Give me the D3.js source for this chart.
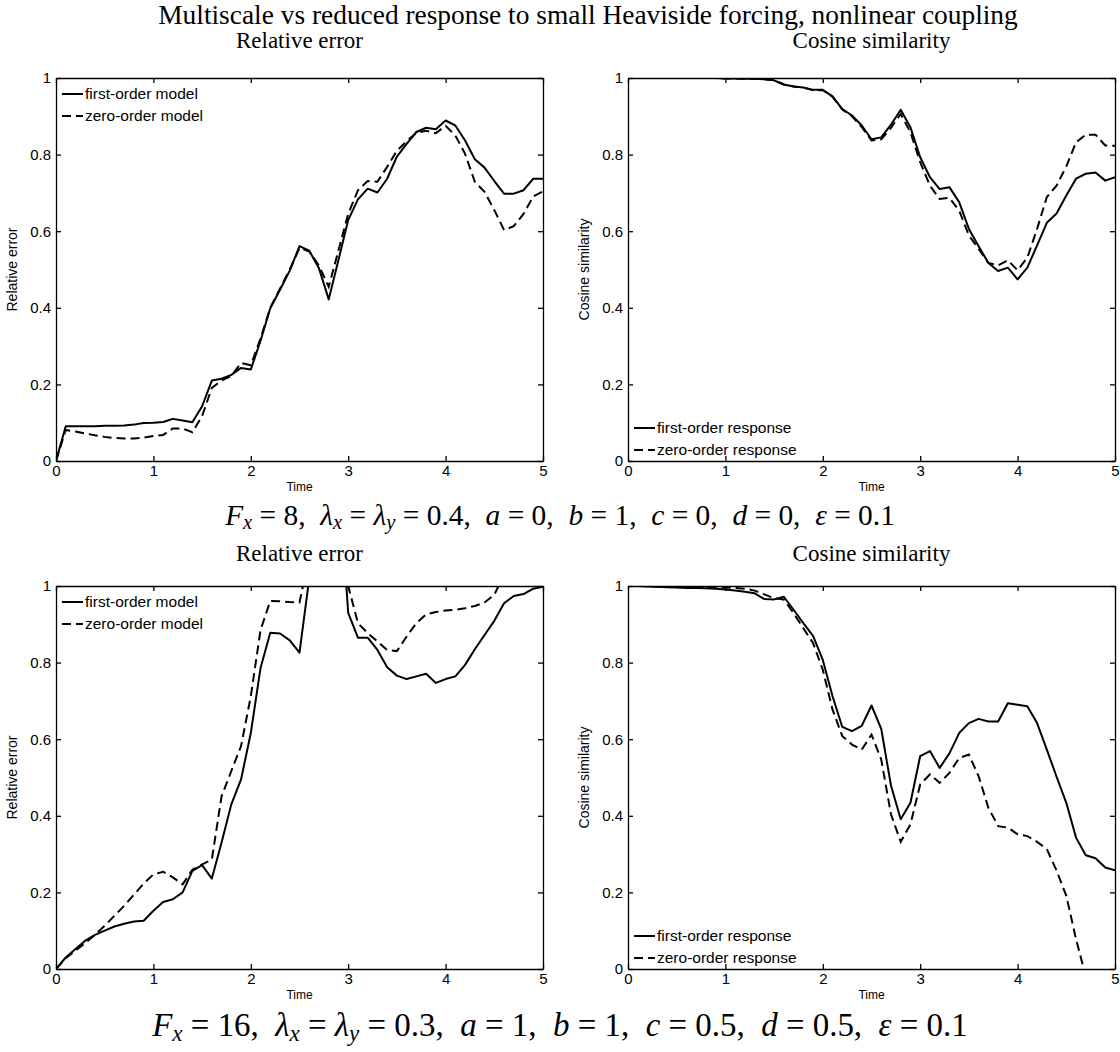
<!DOCTYPE html>
<html>
<head>
<meta charset="utf-8">
<script src="https://cdn.jsdelivr.net/npm/d3@7"></script>
<style>
  body { margin: 0; background: #fff; }
  svg { display: block; }
  .tick text { font-family: "Liberation Sans", Arial, sans-serif; font-size: 15px; fill: #000; }
  .serif { font-family: "Liberation Serif", "Times New Roman", serif; fill: #000; }
  .sans { font-family: "Liberation Sans", Arial, sans-serif; fill: #000; }
</style>
</head>
<body>
<script>
const W = 1120, H = 1052;

// time grid (dt = 0.1)
const time = [0, 0.1, 0.2, 0.3, 0.4, 0.5, 0.6, 0.7, 0.8, 0.9,
  1, 1.1, 1.2, 1.3, 1.4, 1.5, 1.6, 1.7, 1.8, 1.9,
  2, 2.1, 2.2, 2.3, 2.4, 2.5, 2.6, 2.7, 2.8, 2.9,
  3, 3.1, 3.2, 3.3, 3.4, 3.5, 3.6, 3.7, 3.8, 3.9,
  4, 4.1, 4.2, 4.3, 4.4, 4.5, 4.6, 4.7, 4.8, 4.9, 5];

const xTicks = [0, 1, 2, 3, 4, 5];
const yTicks = [0, 0.2, 0.4, 0.6, 0.8, 1];

// case A: Fx = 8
const relFirstA = [0, 0.091, 0.091, 0.091, 0.091, 0.092, 0.092, 0.093, 0.095, 0.099,
  0.100, 0.102, 0.110, 0.106, 0.101, 0.143, 0.210, 0.215, 0.225, 0.243,
  0.239, 0.314, 0.399, 0.447, 0.497, 0.561, 0.549, 0.503, 0.422, 0.525,
  0.629, 0.683, 0.711, 0.701, 0.737, 0.795, 0.828, 0.859, 0.870, 0.866,
  0.889, 0.876, 0.837, 0.788, 0.766, 0.731, 0.698, 0.698, 0.707, 0.737, 0.737];
const relZeroA = [0, 0.081, 0.077, 0.072, 0.067, 0.063, 0.060, 0.059, 0.059, 0.061,
  0.065, 0.068, 0.085, 0.085, 0.075, 0.117, 0.191, 0.210, 0.222, 0.256,
  0.250, 0.320, 0.400, 0.450, 0.500, 0.556, 0.547, 0.510, 0.455, 0.550,
  0.645, 0.707, 0.731, 0.729, 0.768, 0.810, 0.835, 0.857, 0.862, 0.856,
  0.875, 0.850, 0.802, 0.729, 0.703, 0.655, 0.603, 0.613, 0.645, 0.691, 0.704];
const cosFirstA = [null, 1.0, 1.0, 1.0, 1.0, 1.0, 1.0, 1.0, 1.0, 1.0,
  0.999, 0.999, 0.998, 0.998, 0.997, 0.994, 0.983, 0.978, 0.975, 0.969,
  0.969, 0.952, 0.919, 0.902, 0.876, 0.840, 0.845, 0.878, 0.917, 0.871,
  0.793, 0.741, 0.710, 0.715, 0.676, 0.606, 0.561, 0.517, 0.496, 0.505,
  0.474, 0.505, 0.563, 0.622, 0.646, 0.693, 0.737, 0.750, 0.753, 0.732, 0.741];
const cosZeroA = [null, 1.0, 1.0, 1.0, 1.0, 1.0, 1.0, 1.0, 1.0, 1.0,
  0.999, 0.999, 0.998, 0.998, 0.997, 0.994, 0.983, 0.978, 0.975, 0.968,
  0.968, 0.951, 0.918, 0.900, 0.872, 0.837, 0.840, 0.870, 0.906, 0.858,
  0.780, 0.719, 0.684, 0.687, 0.654, 0.589, 0.554, 0.517, 0.511, 0.524,
  0.498, 0.531, 0.606, 0.689, 0.719, 0.769, 0.832, 0.852, 0.852, 0.824, 0.823];

// case B: Fx = 16
const relFirstB = [0, 0.030, 0.052, 0.074, 0.089, 0.100, 0.111, 0.118, 0.124, 0.126,
  0.152, 0.175, 0.182, 0.200, 0.256, 0.271, 0.236, 0.330, 0.430, 0.495,
  0.616, 0.786, 0.878, 0.876, 0.858, 0.826, 1.020, 1.250, 1.400, 1.300,
  0.930, 0.865, 0.865, 0.833, 0.788, 0.766, 0.757, 0.764, 0.771, 0.747,
  0.757, 0.764, 0.794, 0.835, 0.872, 0.909, 0.955, 0.974, 0.979, 0.993, 0.998];
const relZeroB = [0, 0.028, 0.048, 0.068, 0.089, 0.113, 0.139, 0.165, 0.194, 0.223,
  0.247, 0.254, 0.239, 0.221, 0.259, 0.273, 0.286, 0.451, 0.517, 0.582,
  0.712, 0.885, 0.961, 0.960, 0.958, 0.957, 1.080, 1.300, 1.450, 1.300,
  1.000, 0.903, 0.877, 0.855, 0.833, 0.830, 0.868, 0.903, 0.926, 0.932,
  0.936, 0.938, 0.942, 0.948, 0.957, 0.977, 1.030, 1.060, 1.100, 1.120, 1.150];
const cosFirstB = [null, 1.0, 0.999, 0.998, 0.997, 0.996, 0.995, 0.995, 0.994, 0.993,
  0.991, 0.988, 0.985, 0.981, 0.966, 0.965, 0.972, 0.938, 0.903, 0.870,
  0.807, 0.712, 0.632, 0.621, 0.635, 0.688, 0.627, 0.479, 0.391, 0.434,
  0.556, 0.569, 0.525, 0.563, 0.616, 0.642, 0.653, 0.646, 0.646, 0.694,
  0.690, 0.686, 0.642, 0.573, 0.502, 0.434, 0.343, 0.297, 0.289, 0.265, 0.258];
const cosZeroB = [null, 1.0, 1.0, 0.999, 0.999, 0.998, 0.998, 0.997, 0.997, 0.996,
  0.996, 0.995, 0.993, 0.988, 0.978, 0.968, 0.965, 0.929, 0.890, 0.851,
  0.781, 0.677, 0.608, 0.586, 0.573, 0.612, 0.547, 0.404, 0.332, 0.378,
  0.482, 0.508, 0.486, 0.512, 0.551, 0.560, 0.503, 0.421, 0.373, 0.369,
  0.352, 0.347, 0.332, 0.313, 0.257, 0.191, 0.078, -0.020, -0.150, -0.300, -0.400];

const mainTitle = "Multiscale vs reduced response to small Heaviside forcing, nonlinear coupling";
const panelTitles = ["Relative error", "Cosine similarity"];
const yLabels = ["Relative error", "Cosine similarity"];
const relLegend = ["first-order model", "zero-order model"];
const cosLegend = ["first-order response", "zero-order response"];

// parameter captions: [text, italic, subscript]
const paramsA = [["F", 1], ["x", 1, 1], [" = 8,  "], ["λ", 1], ["x", 1, 1], [" = "], ["λ", 1], ["y", 1, 1],
  [" = 0.4,  "], ["a", 1], [" = 0,  "], ["b", 1], [" = 1,  "], ["c", 1], [" = 0,  "], ["d", 1],
  [" = 0,  "], ["ε", 1], [" = 0.1"]];
const paramsB = [["F", 1], ["x", 1, 1], [" = 16,  "], ["λ", 1], ["x", 1, 1], [" = "], ["λ", 1], ["y", 1, 1],
  [" = 0.3,  "], ["a", 1], [" = 1,  "], ["b", 1], [" = 1,  "], ["c", 1], [" = 0.5,  "], ["d", 1],
  [" = 0.5,  "], ["ε", 1], [" = 0.1"]];

const svg = d3.select("body").append("svg")
  .attr("width", W)
  .attr("height", H)
  .attr("viewBox", `0 0 ${W} ${H}`);

const SERIF = 24;

// scale a text's font so that it spans the given width
function fitWidth(t, target) {
  const w = t.node().getComputedTextLength();
  t.style("font-size", (SERIF * target / w) + "px");
}

function mathText(x, y, parts, target) {
  const t = svg.append("text")
    .attr("class", "serif")
    .attr("x", x)
    .attr("y", y)
    .attr("text-anchor", "middle")
    .style("font-size", SERIF + "px");
  let prevSub = false;
  parts.forEach(p => {
    const s = t.append("tspan").text(p[0].replace(/ /g, "\u00a0"));
    if (p[1]) s.style("font-style", "italic");
    if (p[2]) s.attr("dy", "0.2em").style("font-size", "0.7em");
    else if (prevSub) s.attr("dy", "-0.14em");
    prevSub = !!p[2];
  });
  fitWidth(t, target);
  return t;
}

const title = svg.append("text")
  .attr("class", "serif")
  .attr("x", 588)
  .attr("y", 24)
  .attr("text-anchor", "middle")
  .style("font-size", SERIF + "px")
  .text(mainTitle);
fitWidth(title, 860);

const panels = [
  { x0: 56, x1: 543, y0: 78, y1: 461, first: relFirstA, zero: relZeroA, kind: 0, legendTop: true },
  { x0: 628, x1: 1115, y0: 78, y1: 461, first: cosFirstA, zero: cosZeroA, kind: 1, legendTop: false },
  { x0: 56, x1: 543, y0: 586, y1: 969, first: relFirstB, zero: relZeroB, kind: 0, legendTop: true },
  { x0: 628, x1: 1115, y0: 586, y1: 969, first: cosFirstB, zero: cosZeroB, kind: 1, legendTop: false }
];

panels.forEach((p, idx) => {
  const x = d3.scaleLinear().domain([0, 5]).range([p.x0, p.x1]);
  const y = d3.scaleLinear().domain([0, 1]).range([p.y1, p.y0]);

  // panel title
  svg.append("text")
    .attr("class", "serif")
    .attr("x", (p.x0 + p.x1) / 2)
    .attr("y", p.y0 - (idx < 2 ? 30 : 25))
    .attr("text-anchor", "middle")
    .style("font-size", "23px")
    .text(panelTitles[p.kind]);

  const clipId = "clip" + idx;
  svg.append("clipPath").attr("id", clipId)
    .append("rect")
    .attr("x", p.x0).attr("y", p.y0)
    .attr("width", p.x1 - p.x0).attr("height", p.y1 - p.y0);

  const line = d3.line()
    .defined(d => d[1] !== null)
    .x(d => x(d[0]))
    .y(d => y(d[1]));

  const g = svg.append("g").attr("clip-path", `url(#${clipId})`);
  g.append("path")
    .datum(time.map((t, i) => [t, p.first[i]]))
    .attr("d", line)
    .attr("fill", "none")
    .attr("stroke", "#000")
    .attr("stroke-width", 2)
    .attr("stroke-linejoin", "round");
  g.append("path")
    .datum(time.map((t, i) => [t, p.zero[i]]))
    .attr("d", line)
    .attr("fill", "none")
    .attr("stroke", "#000")
    .attr("stroke-width", 2)
    .attr("stroke-dasharray", "9,5");

  // axes, ticks inward on all four sides
  const fmt = d => String(d);
  svg.append("g").attr("transform", `translate(0,${p.y1})`)
    .call(d3.axisBottom(x).tickValues(xTicks).tickFormat(fmt).tickSize(-5).tickSizeOuter(0).tickPadding(4));
  svg.append("g").attr("transform", `translate(0,${p.y0})`)
    .call(d3.axisTop(x).tickValues(xTicks).tickFormat("").tickSize(-5).tickSizeOuter(0));
  svg.append("g").attr("transform", `translate(${p.x0},0)`)
    .call(d3.axisLeft(y).tickValues(yTicks).tickFormat(fmt).tickSize(-5).tickSizeOuter(0).tickPadding(5));
  svg.append("g").attr("transform", `translate(${p.x1},0)`)
    .call(d3.axisRight(y).tickValues(yTicks).tickFormat("").tickSize(-5).tickSizeOuter(0));
  svg.selectAll(".domain, .tick line").attr("stroke", "#000").attr("stroke-width", 1.3);

  // axis labels
  svg.append("text")
    .attr("class", "sans")
    .attr("x", (p.x0 + p.x1) / 2)
    .attr("y", p.y1 + 30)
    .attr("text-anchor", "middle")
    .style("font-size", "12px")
    .text("Time");
  svg.append("text")
    .attr("class", "sans")
    .attr("transform", `translate(${p.x0 - 39},${(p.y0 + p.y1) / 2}) rotate(-90)`)
    .attr("text-anchor", "middle")
    .style("font-size", "14px")
    .text(yLabels[p.kind]);

  // legend
  const labels = p.kind === 0 ? relLegend : cosLegend;
  const ly = p.legendTop ? [p.y0 + 16, p.y0 + 38] : [p.y1 - 33, p.y1 - 11];
  labels.forEach((lab, i) => {
    svg.append("line")
      .attr("x1", p.x0 + 6).attr("x2", p.x0 + 27)
      .attr("y1", ly[i]).attr("y2", ly[i])
      .attr("stroke", "#000").attr("stroke-width", 2)
      .attr("stroke-dasharray", i === 1 ? "9,5" : null);
    svg.append("text")
      .attr("class", "sans")
      .attr("x", p.x0 + 29)
      .attr("y", ly[i])
      .attr("dy", "0.35em")
      .style("font-size", "15.5px")
      .text(lab);
  });
});

mathText(560, 525, paramsA, 670);
mathText(560, 1036, paramsB, 816);
</script>
</body>
</html>
